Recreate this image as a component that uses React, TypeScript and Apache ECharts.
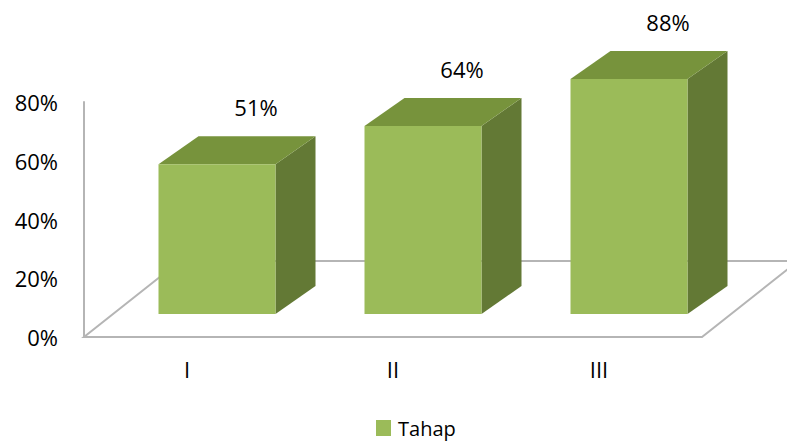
import React, { useEffect, useRef } from "react";
import * as echarts from "echarts";

// Data
const categories = ["I", "II", "III"];
// Bar heights as drawn in the reference (percent)
const barHeights = [51, 64, 80];
// Data labels as printed in the reference (percent)
const labelValues = [51, 64, 88];
const yTicks = [0, 20, 40, 60, 80];
const seriesName = "Tahap";

const FONT = "'Open Sans', 'Liberation Sans', sans-serif";
const FRONT = "#9BBB59";
const TOP = "#77933C";
const SIDE = "#637935";
const FLOOR = "#b5b5b5";

export default function App() {
  const ref = useRef<HTMLDivElement>(null);

  useEffect(() => {
    if (!ref.current) return;
    const chart = echarts.init(ref.current, null, { renderer: "svg" });

    const option: any = {
      animation: false,
      backgroundColor: "#ffffff",
      grid: { left: 84, right: 85, top: 102, bottom: 106, containLabel: false },
      legend: {
        data: [{ name: seriesName, icon: "rect" }],
        left: 376,
        top: 418,
        padding: 0,
        itemWidth: 15,
        itemHeight: 16,
        itemGap: 6,
        textStyle: { fontFamily: FONT, fontSize: 20, color: "#000", padding: [0, 0, 0, 2] },
      },
      xAxis: {
        type: "category",
        data: categories,
        axisLine: { show: false },
        axisTick: { show: false },
        axisLabel: { fontFamily: FONT, fontSize: 22, color: "#000", margin: 21 },
        splitLine: { show: false },
      },
      yAxis: {
        type: "value",
        min: yTicks[0],
        max: yTicks[yTicks.length - 1],
        interval: yTicks[1] - yTicks[0],
        axisLine: { show: true, lineStyle: { color: FLOOR, width: 2 } },
        axisTick: { show: false },
        splitLine: { show: false },
        axisLabel: {
          fontFamily: FONT,
          fontSize: 22,
          color: "#000",
          margin: 26,
          padding: [7, 0, 0, 0],
          formatter: "{value}%",
        },
      },
      series: [
        {
          type: "custom",
          name: "floor",
          silent: true,
          clip: false,
          z: 1,
          data: [[0, 0]],
          renderItem: (params: any, api: any) => {
            const c0 = api.coord([0, 0]);
            const band = api.size([1, 0])[0];
            const left = c0[0] - band / 2;
            const right = left + categories.length * band;
            const y0 = c0[1];
            const dx = 96;
            const dy = -76;
            return {
              type: "polyline",
              shape: {
                points: [
                  [left + dx, y0 + dy],
                  [left, y0],
                  [right, y0],
                  [right + dx, y0 + dy],
                  [left + dx, y0 + dy],
                ],
              },
              style: { stroke: FLOOR, lineWidth: 2, fill: "none" },
            };
          },
        },
        {
          type: "custom",
          name: seriesName,
          clip: false,
          z: 2,
          itemStyle: { color: FRONT },
          data: barHeights.map((v, i) => [i, v, labelValues[i]]),
          renderItem: (params: any, api: any) => {
            const idx = api.value(0);
            const val = api.value(1);
            const lab = api.value(2);
            const base = api.coord([idx, 0]);
            const topPt = api.coord([idx, val]);
            const ox = 30;
            const oy = -23;
            const w = 117;
            const ddx = 40;
            const ddy = -28;
            const cx = base[0] + ox;
            const x1 = cx - w / 2;
            const x2 = cx + w / 2;
            const yb = base[1] + oy;
            const yt = topPt[1] + oy;
            return {
              type: "group",
              children: [
                {
                  type: "polygon",
                  shape: {
                    points: [
                      [x2, yb],
                      [x2 + ddx, yb + ddy],
                      [x2 + ddx, yt + ddy],
                      [x2, yt],
                    ],
                  },
                  style: { fill: SIDE },
                },
                {
                  type: "polygon",
                  shape: {
                    points: [
                      [x1, yt],
                      [x2, yt],
                      [x2 + ddx, yt + ddy],
                      [x1 + ddx, yt + ddy],
                    ],
                  },
                  style: { fill: TOP },
                },
                {
                  type: "rect",
                  shape: { x: x1, y: yt, width: w, height: yb - yt },
                  style: { fill: FRONT },
                },
                {
                  type: "text",
                  style: {
                    text: lab + "%",
                    x: cx + ddx - 1,
                    y: yt + ddy - 29,
                    align: "center",
                    verticalAlign: "middle",
                    fontFamily: FONT,
                    fontSize: 22,
                    fill: "#000",
                  },
                },
              ],
            };
          },
        },
      ],
    };

    chart.setOption(option);
    return () => chart.dispose();
  }, []);

  return (
    <div
      ref={ref}
      style={{ position: "fixed", left: 0, top: 0, width: 787, height: 443, background: "#fff" }}
    />
  );
}
